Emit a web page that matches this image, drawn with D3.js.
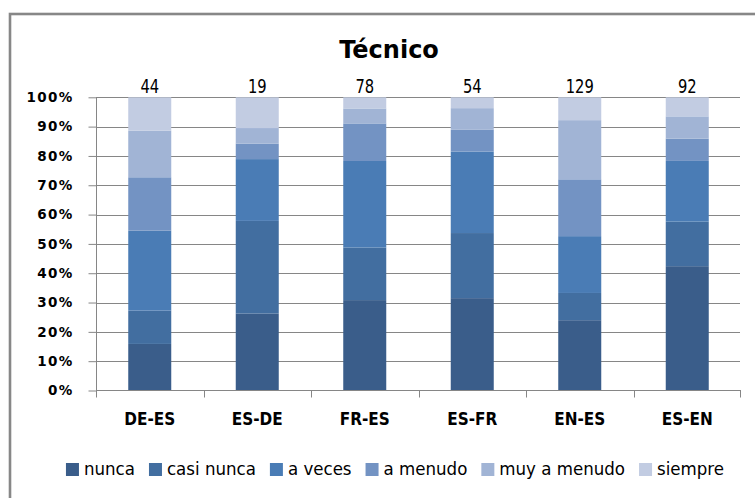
<!DOCTYPE html>
<html>
<head>
<meta charset="utf-8">
<script src="https://cdn.jsdelivr.net/npm/d3@7"></script>
<style>
  html, body { margin: 0; padding: 0; background: #fff; }
  svg { display: block; }
</style>
</head>
<body>
<svg id="chart" width="755" height="498"></svg>
<script>
// ---- data ----
const categories = ["DE-ES", "ES-DE", "FR-ES", "ES-FR", "EN-ES", "ES-EN"];
const totals = [44, 19, 78, 54, 129, 92];
const seriesNames = ["nunca", "casi nunca", "a veces", "a menudo", "muy a menudo", "siempre"];
const nunca       = [15.9, 26.3, 30.8, 31.5, 24.0, 42.4];
const casiNunca   = [11.4, 31.6, 17.9, 22.2,  9.3, 15.2];
const aVeces      = [27.3, 21.1, 29.5, 27.8, 19.4, 20.7];
const aMenudo     = [18.2,  5.3, 12.8,  7.4, 19.4,  7.6];
const muyAMenudo  = [15.9,  5.3,  5.1,  7.4, 20.2,  7.6];
const siempre     = [11.4, 10.5,  3.8,  3.7,  7.8,  6.5];
const yTicks = [0, 10, 20, 30, 40, 50, 60, 70, 80, 90, 100];
const colors = ["#3a5d8a", "#426ea0", "#4a7cb5", "#7393c3", "#a1b4d5", "#c2cce2"];
const chartTitle = "Técnico";

const seriesValues = [nunca, casiNunca, aVeces, aMenudo, muyAMenudo, siempre];
const rows = categories.map((c, i) => {
  const r = { cat: c };
  seriesNames.forEach((s, j) => r[s] = seriesValues[j][i]);
  return r;
});

const svg = d3.select("#chart");
const gridColor = "#868686";

// outer frame
svg.append("rect")
  .attr("x", 10).attr("y", 14)
  .attr("width", 800).attr("height", 600)
  .attr("fill", "none").attr("stroke", "#878787").attr("stroke-width", 2.6);

const pLeft = 96, pRight = 741, pTop = 97.3, pBottom = 390.5;

const x = d3.scaleBand().domain(categories).range([pLeft, pRight])
  .paddingInner(0.6).paddingOuter(0.3);
const y = d3.scaleLinear().domain([0, 100]).range([pBottom, pTop]);

// gridlines
svg.append("g").selectAll("line").data(yTicks.filter(d => d > 0)).join("line")
  .attr("x1", pLeft).attr("x2", pRight - 1)
  .attr("y1", d => Math.round(y(d)) + 0.5).attr("y2", d => Math.round(y(d)) + 0.5)
  .attr("stroke", gridColor).attr("stroke-width", 1);

// stacked bars
const stack = d3.stack().keys(seriesNames).offset(d3.stackOffsetExpand);
const stacked = stack(rows);
svg.append("g").selectAll("g").data(stacked).join("g")
  .attr("fill", (d, i) => colors[i])
  .selectAll("rect").data(d => d).join("rect")
  .attr("x", d => x(d.data.cat))
  .attr("width", x.bandwidth())
  .attr("y", d => y(d[1] * 100))
  .attr("height", d => y(d[0] * 100) - y(d[1] * 100));

// y axis
const yAxis = d3.axisLeft(y).tickValues(yTicks).tickFormat(d => d + "%").tickSize(8).tickPadding(15);
const gy = svg.append("g").attr("transform", `translate(${pLeft + 0.5},0)`).call(yAxis);
gy.select(".domain").attr("stroke", gridColor).attr("d", `M0,${pTop}V${pBottom + 7}`);
gy.selectAll(".tick line").attr("stroke", gridColor);
gy.selectAll(".tick text")
  .attr("fill", "#000")
  .style("font-family", "'DejaVu Sans', sans-serif")
  .style("font-weight", "bold")
  .style("font-size", "13.5px")
  .style("letter-spacing", "1.3px");

// x axis
const gx = svg.append("g");
gx.append("line").attr("x1", pLeft).attr("x2", pRight).attr("y1", pBottom).attr("y2", pBottom)
  .attr("stroke", gridColor);
const tickXs = categories.map((c, i) => pLeft + i * x.step()).concat([pRight - 1]);
gx.selectAll("line.tk").data(tickXs.slice(1)).join("line").attr("class", "tk")
  .attr("x1", d => Math.round(d) + 0.5).attr("x2", d => Math.round(d) + 0.5)
  .attr("y1", pBottom).attr("y2", pBottom + 7).attr("stroke", gridColor);
gx.selectAll("text").data(categories).join("text")
  .attr("x", d => x(d) + x.bandwidth() / 2)
  .attr("y", 425)
  .attr("text-anchor", "middle")
  .style("font-family", "'DejaVu Sans Condensed', 'DejaVu Sans', sans-serif")
  .style("font-weight", "bold")
  .style("font-size", "17px")
  .text(d => d);

// totals on top
svg.append("g").selectAll("text").data(categories).join("text")
  .attr("transform", d => `translate(${x(d) + x.bandwidth() / 2},93) scale(0.82,1)`)
  .attr("text-anchor", "middle")
  .style("font-family", "'DejaVu Sans Condensed', sans-serif")
  .style("font-size", "20px")
  .text((d, i) => totals[i]);

// title
svg.append("text")
  .attr("x", 389).attr("y", 58)
  .attr("text-anchor", "middle")
  .style("font-family", "'DejaVu Sans', sans-serif")
  .style("font-weight", "bold")
  .style("font-size", "24px")
  .text(chartTitle);

// legend
const leg = svg.append("g");
const items = leg.selectAll("g").data(seriesNames).join("g");
items.append("rect").attr("width", 13).attr("height", 13)
  .attr("fill", (d, i) => colors[i]);
items.append("text").attr("x", 18).attr("y", 12)
  .style("font-family", "'DejaVu Sans Condensed', sans-serif")
  .style("font-size", "18.5px")
  .text(d => d);
let cx = 0;
const pos = [];
items.each(function () {
  pos.push(cx);
  const w = d3.select(this).select("text").node().getComputedTextLength();
  cx += 18 + w + 14;
});
const totalW = cx - 14;
const startX = 395 - totalW / 2;
items.attr("transform", (d, i) => `translate(${startX + pos[i]},463)`);
</script>
</body>
</html>
